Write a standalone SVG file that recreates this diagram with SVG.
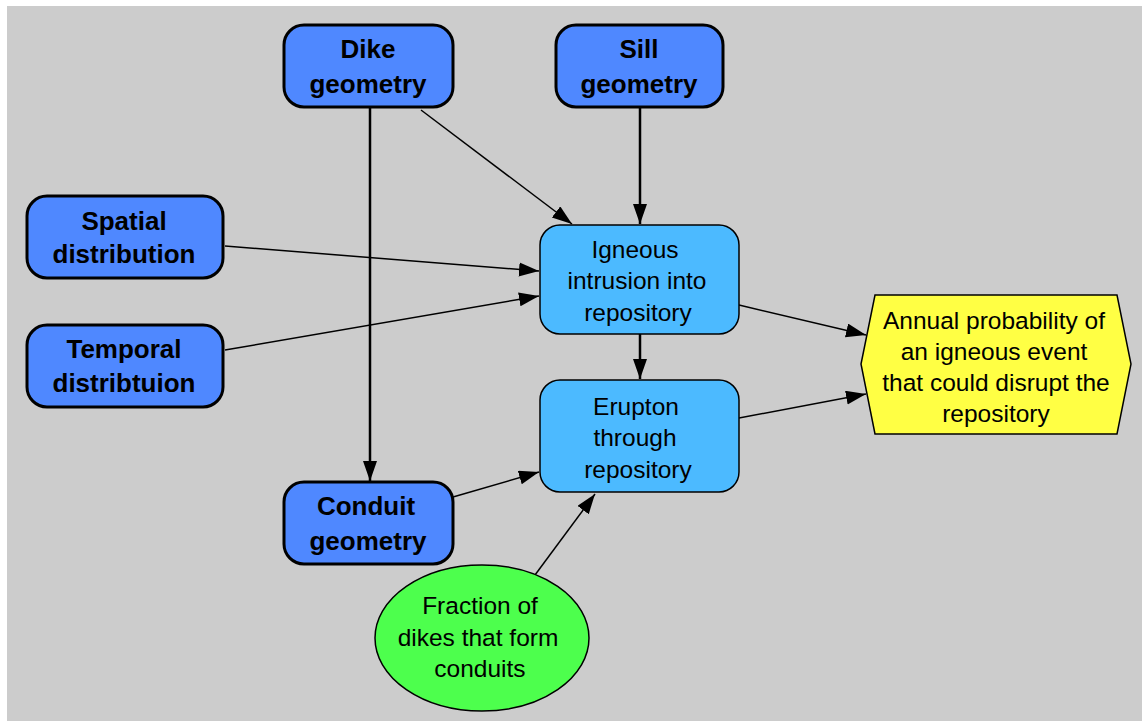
<svg xmlns="http://www.w3.org/2000/svg" width="1142" height="721" viewBox="0 0 1142 721">
  <style>
    .bg { fill: #cccccc; }
    .input rect { fill: #4f88ff; stroke: #000; stroke-width: 3; }
    .input text { font-family: "Liberation Sans", Arial, sans-serif; font-weight: bold; font-size: 26px; fill: #000; text-anchor: middle; }
    .calc rect { fill: #4cbaff; stroke: #000; stroke-width: 1.5; }
    .calc text, .result text, .chance text { font-family: "Liberation Sans", Arial, sans-serif; font-size: 24.5px; fill: #000; text-anchor: middle; }
    .result polygon { fill: #ffff44; stroke: #000; stroke-width: 1.5; }
    .chance ellipse { fill: #4dff4d; stroke: #000; stroke-width: 1.5; }
    .edge { stroke: #000; fill: none; stroke-width: 1.5; }
    .edge.thick { stroke-width: 2.5; }
  </style>
  <defs>
    <marker id="arrow" markerUnits="userSpaceOnUse" markerWidth="22" markerHeight="16" refX="20" refY="7" orient="auto">
      <path d="M0,0 L20,7 L0,14 Z" fill="#000"/>
    </marker>
  </defs>

  <rect class="bg" x="7" y="6" width="1135" height="715"/>

  <!-- connectors -->
  <g id="connectors">
    <line class="edge thick" x1="370" y1="107" x2="370" y2="481" marker-end="url(#arrow)"/>
    <line class="edge" x1="421" y1="110" x2="572" y2="224" marker-end="url(#arrow)"/>
    <line class="edge thick" x1="640" y1="107" x2="640" y2="224" marker-end="url(#arrow)"/>
    <line class="edge" x1="225" y1="246" x2="539" y2="271" marker-end="url(#arrow)"/>
    <line class="edge" x1="225" y1="350" x2="539" y2="296" marker-end="url(#arrow)"/>
    <line class="edge thick" x1="640" y1="334" x2="640" y2="379" marker-end="url(#arrow)"/>
    <line class="edge" x1="739" y1="305" x2="866" y2="335" marker-end="url(#arrow)"/>
    <line class="edge" x1="739" y1="418" x2="866" y2="394" marker-end="url(#arrow)"/>
    <line class="edge" x1="453" y1="497" x2="539" y2="472" marker-end="url(#arrow)"/>
    <line class="edge" x1="535" y1="575" x2="595" y2="494" marker-end="url(#arrow)"/>
  </g>

  <g id="dike-geometry" class="input">
    <rect x="284" y="25" width="169" height="82" rx="20"/>
    <text x="368" y="58">Dike</text>
    <text x="368" y="93">geometry</text>
  </g>

  <g id="sill-geometry" class="input">
    <rect x="556" y="25" width="167" height="82" rx="20"/>
    <text x="639" y="58">Sill</text>
    <text x="639" y="93">geometry</text>
  </g>

  <g id="spatial-distribution" class="input">
    <rect x="27" y="196" width="196" height="82" rx="20"/>
    <text x="124" y="230">Spatial</text>
    <text x="124" y="263">distribution</text>
  </g>

  <g id="temporal-distribution" class="input">
    <rect x="27" y="325" width="196" height="82" rx="20"/>
    <text x="124" y="358">Temporal</text>
    <text x="124" y="392">distribtuion</text>
  </g>

  <g id="conduit-geometry" class="input">
    <rect x="284" y="482" width="169" height="82" rx="20"/>
    <text x="366" y="515">Conduit</text>
    <text x="368" y="550">geometry</text>
  </g>

  <g id="igneous-intrusion" class="calc">
    <rect x="540" y="225" width="199" height="109" rx="20"/>
    <text x="635" y="258">Igneous</text>
    <text x="637" y="289">intrusion into</text>
    <text x="638" y="321">repository</text>
  </g>

  <g id="eruption" class="calc">
    <rect x="540" y="380" width="199" height="112" rx="20"/>
    <text x="636" y="415">Erupton</text>
    <text x="635" y="446">through</text>
    <text x="638" y="478">repository</text>
  </g>

  <g id="annual-probability" class="result">
    <polygon points="875,295 1117,295 1131,364 1117,434 875,434 861,364"/>
    <text x="994" y="329">Annual probability of</text>
    <text x="994" y="360">an igneous event</text>
    <text x="996" y="391">that could disrupt the</text>
    <text x="996" y="422">repository</text>
  </g>

  <g id="conduit-fraction" class="chance">
    <ellipse cx="482" cy="638" rx="107" ry="73"/>
    <text x="480" y="614">Fraction of</text>
    <text x="478" y="646">dikes that form</text>
    <text x="480" y="677">conduits</text>
  </g>
</svg>
